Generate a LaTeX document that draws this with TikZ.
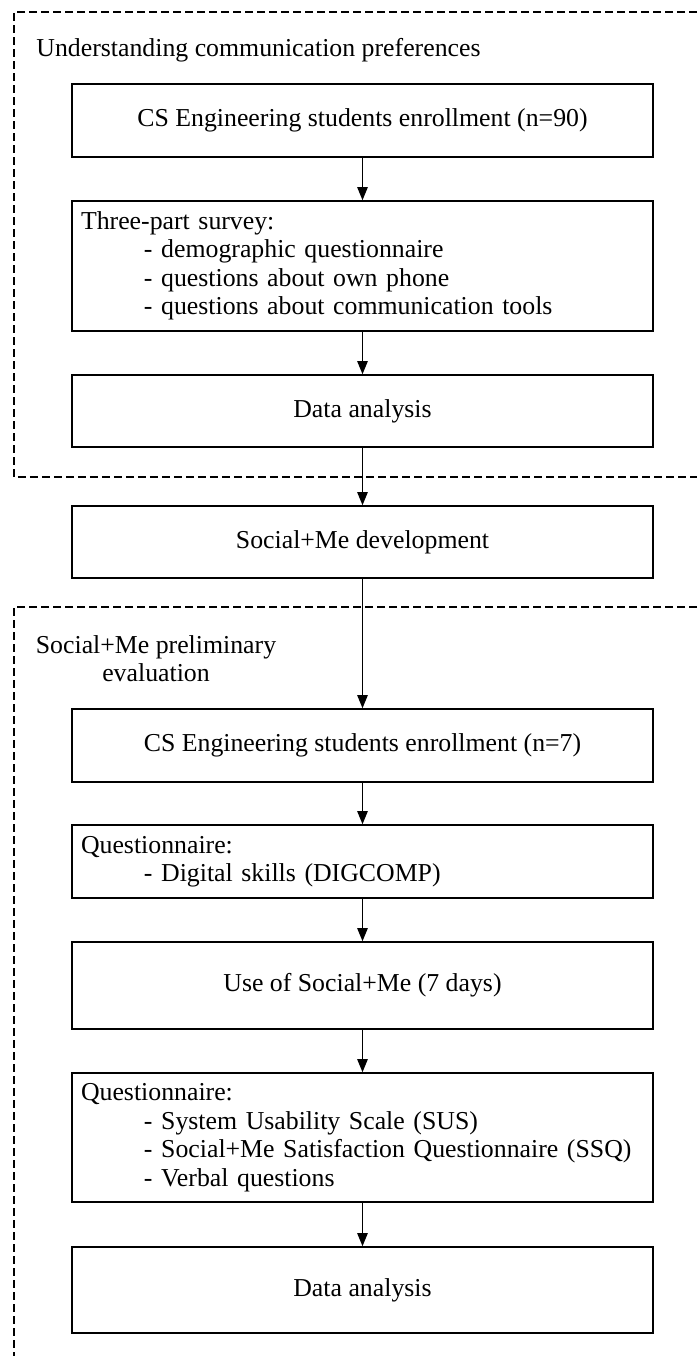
\documentclass[tikz,border=0pt]{standalone}
\usepackage{fontspec}
\setmainfont{Liberation Serif}
\usetikzlibrary{arrows.meta}

\tikzset{
	stage/.style={draw, line width=0.8pt, minimum width=290.5pt, inner xsep=4.5pt, font=\fontsize{12.9}{14.25}\selectfont},
	stagec/.style={stage, align=center},
	stagel/.style={stage, align=left, text width=281.5pt},
	frame/.style={dash pattern=on 4pt off 2pt, line width=0.6pt},
	flow/.style={-{Triangle[length=6.5pt,width=5.2pt]}, line width=0.6pt},
	heading/.style={inner sep=0pt, font=\fontsize{12.9}{14}\selectfont},
}
\newcommand{\subline}[1]{\\\hspace*{31.5pt}- #1}

\begin{document}
\begin{tikzpicture}[x=0.5pt, y=-0.5pt]
\useasboundingbox (0,0) rectangle (697,1356);

% first study frame
\draw[frame] (697,12) -- (14,12) -- (14,477) -- (697,477);
\node[heading, anchor=west] (prefstitle) at (36,50) {Understanding communication preferences};

% enrollment
\node[stagec, minimum height=36.5pt] (enrol1) at (362.5,120.5) {CS Engineering students enrollment (n=90)};
% survey
\node[stagel, minimum height=65pt] (survey) at (362.5,266) {Three-part survey:\subline{demographic questionnaire}\subline{questions about own phone}\subline{questions about communication tools}};
% analysis
\node[stagec, minimum height=36pt] (analysis1) at (362.5,411) {Data analysis};

% development
\node[stagec, minimum height=36pt] (develop) at (362.5,542) {Social+Me development};

% second study frame
\draw[frame] (697,607) -- (14,607) -- (14,1356);
\node[heading, align=center] (evaltitle) at (156,659) {Social+Me preliminary\\evaluation};

% enrollment
\node[stagec, minimum height=36.5pt] (enrol2) at (362.5,745.5) {CS Engineering students enrollment (n=7)};
% skills questionnaire
\node[stagel, minimum height=36.5pt] (skills) at (362.5,861.5) {Questionnaire:\subline{Digital skills (DIGCOMP)}};
% use
\node[stagec, minimum height=43.5pt] (usage) at (362.5,985.5) {Use of Social+Me (7 days)};
% final questionnaire
\node[stagel, minimum height=64.5pt] (finalq) at (362.5,1137.5) {Questionnaire:\subline{System Usability Scale (SUS)}\subline{Social+Me Satisfaction Questionnaire (SSQ)}\subline{Verbal questions}};
% analysis
\node[stagec, minimum height=43pt] (analysis2) at (362.5,1290) {Data analysis};

% arrows
\draw[flow] (enrol1) -- (survey);
\draw[flow] (survey) -- (analysis1);
\draw[flow] (analysis1) -- (develop);
\draw[flow] (develop) -- (enrol2);
\draw[flow] (enrol2) -- (skills);
\draw[flow] (skills) -- (usage);
\draw[flow] (usage) -- (finalq);
\draw[flow] (finalq) -- (analysis2);
\end{tikzpicture}
\end{document}
